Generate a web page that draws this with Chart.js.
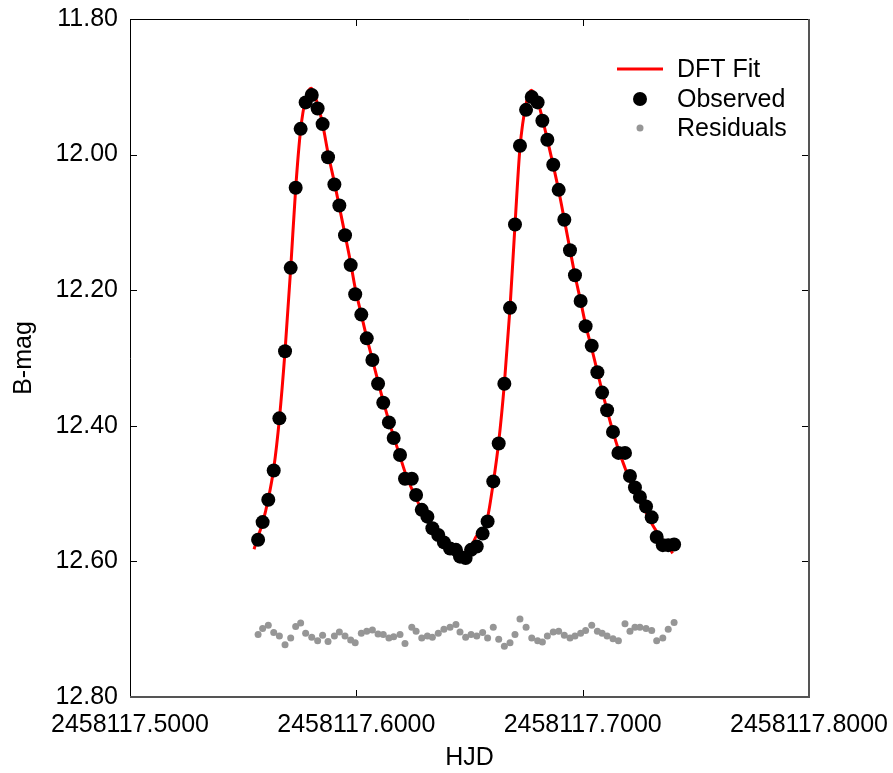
<!DOCTYPE html>
<html>
<head>
<meta charset="utf-8">
<script src="https://cdn.jsdelivr.net/npm/chart.js@4"></script>
<style>
html, body { margin: 0; padding: 0; background: #fff; }
canvas { display: block; }
</style>
</head>
<body>
<canvas id="lightCurve" width="893" height="773"></canvas>
<script>
const hjd = [
  2458117.5566, 2458117.5586, 2458117.5611, 2458117.5635, 2458117.5660, 2458117.5685, 2458117.5710, 2458117.5732, 2458117.5754, 2458117.5776,
  2458117.5803, 2458117.5829, 2458117.5851, 2458117.5875, 2458117.5903, 2458117.5925, 2458117.5950, 2458117.5975, 2458117.5995, 2458117.6022,
  2458117.6046, 2458117.6071, 2458117.6096, 2458117.6119, 2458117.6144, 2458117.6165, 2458117.6193, 2458117.6215, 2458117.6245, 2458117.6264,
  2458117.6289, 2458117.6314, 2458117.6336, 2458117.6362, 2458117.6387, 2458117.6414, 2458117.6440, 2458117.6458, 2458117.6483, 2458117.6507,
  2458117.6532, 2458117.6558, 2458117.6580, 2458117.6605, 2458117.6629, 2458117.6654, 2458117.6679, 2458117.6701, 2458117.6723, 2458117.6750,
  2458117.6775, 2458117.6801, 2458117.6822, 2458117.6844, 2458117.6870, 2458117.6894, 2458117.6919, 2458117.6944, 2458117.6966, 2458117.6991,
  2458117.7013, 2458117.7040, 2458117.7065, 2458117.7086, 2458117.7108, 2458117.7134, 2458117.7158, 2458117.7187, 2458117.7209, 2458117.7231,
  2458117.7253, 2458117.7280, 2458117.7305, 2458117.7327, 2458117.7354, 2458117.7378, 2458117.7404
];
const observed = [
  12.568, 12.542, 12.509, 12.466, 12.389, 12.290, 12.167, 12.049, 11.962, 11.923,
  11.912, 11.932, 11.955, 12.004, 12.044, 12.075, 12.119, 12.163, 12.206, 12.236,
  12.271, 12.303, 12.338, 12.366, 12.395, 12.418, 12.443, 12.478, 12.478, 12.502,
  12.524, 12.534, 12.551, 12.561, 12.572, 12.581, 12.583, 12.593, 12.595, 12.583,
  12.578, 12.559, 12.541, 12.482, 12.426, 12.338, 12.226, 12.103, 11.987, 11.934,
  11.915, 11.923, 11.950, 11.978, 12.015, 12.052, 12.096, 12.141, 12.178, 12.216,
  12.253, 12.282, 12.321, 12.351, 12.377, 12.409, 12.440, 12.440, 12.474, 12.491,
  12.505, 12.519, 12.535, 12.564, 12.576, 12.576, 12.575
];
const residuals = [
  12.708, 12.699, 12.694, 12.705, 12.710, 12.723, 12.713, 12.696, 12.691, 12.706,
  12.712, 12.717, 12.709, 12.718, 12.710, 12.704, 12.710, 12.716, 12.720, 12.706,
  12.703, 12.701, 12.707, 12.708, 12.713, 12.711, 12.708, 12.721, 12.697, 12.703,
  12.713, 12.710, 12.712, 12.706, 12.700, 12.697, 12.693, 12.704, 12.712, 12.708,
  12.710, 12.705, 12.713, 12.697, 12.715, 12.725, 12.720, 12.708, 12.685, 12.697,
  12.713, 12.717, 12.719, 12.710, 12.704, 12.703, 12.709, 12.713, 12.710, 12.706,
  12.702, 12.694, 12.703, 12.706, 12.710, 12.714, 12.717, 12.692, 12.703, 12.697,
  12.697, 12.699, 12.702, 12.717, 12.713, 12.700, 12.690
];

// DFT fit curve
const fitHjd = [
  2458117.5548, 2458117.5566, 2458117.5586, 2458117.5611, 2458117.5635, 2458117.5660, 2458117.5685, 2458117.5710, 2458117.5732, 2458117.5754,
  2458117.5776, 2458117.5800, 2458117.5829, 2458117.5851, 2458117.5875, 2458117.5903, 2458117.5925, 2458117.5950, 2458117.5975, 2458117.5995,
  2458117.6022, 2458117.6046, 2458117.6071, 2458117.6096, 2458117.6119, 2458117.6144, 2458117.6165, 2458117.6193, 2458117.6215, 2458117.6245,
  2458117.6264, 2458117.6289, 2458117.6314, 2458117.6336, 2458117.6362, 2458117.6387, 2458117.6414, 2458117.6440, 2458117.6458, 2458117.6475,
  2458117.6507, 2458117.6532, 2458117.6558, 2458117.6580, 2458117.6605, 2458117.6629, 2458117.6654, 2458117.6679, 2458117.6701, 2458117.6723,
  2458117.6750, 2458117.6773, 2458117.6801, 2458117.6822, 2458117.6844, 2458117.6870, 2458117.6894, 2458117.6919, 2458117.6944, 2458117.6966,
  2458117.6991, 2458117.7013, 2458117.7040, 2458117.7065, 2458117.7086, 2458117.7108, 2458117.7134, 2458117.7158, 2458117.7187, 2458117.7209,
  2458117.7231, 2458117.7253, 2458117.7280, 2458117.7305, 2458117.7327, 2458117.7354, 2458117.7378, 2458117.7398
];
const fitMag = [
  12.582, 12.563, 12.543, 12.508, 12.463, 12.390, 12.290, 12.168, 12.050, 11.963,
  11.918, 11.902, 11.926, 11.955, 11.998, 12.041, 12.077, 12.118, 12.160, 12.197,
  12.236, 12.270, 12.302, 12.335, 12.364, 12.393, 12.416, 12.445, 12.468, 12.493,
  12.507, 12.524, 12.539, 12.551, 12.563, 12.573, 12.581, 12.587, 12.589, 12.588,
  12.578, 12.562, 12.556, 12.535, 12.484, 12.424, 12.338, 12.226, 12.104, 11.990,
  11.925, 11.905, 11.921, 11.947, 11.978, 12.016, 12.053, 12.096, 12.140, 12.178,
  12.216, 12.251, 12.286, 12.320, 12.349, 12.377, 12.409, 12.435, 12.462, 12.481,
  12.497, 12.512, 12.528, 12.544, 12.556, 12.569, 12.579, 12.588
];

const xTicks = [2458117.5, 2458117.6, 2458117.7, 2458117.8];
const yTicks = [11.8, 12.0, 12.2, 12.4, 12.6, 12.8];

const seriesNames = ['DFT Fit', 'Observed', 'Residuals'];

Chart.defaults.font.family = '"Liberation Sans", Arial, sans-serif';
Chart.defaults.font.size = 25;
Chart.defaults.color = '#000';

const toPoints = (xs, ys) => xs.map((x, i) => ({ x: x, y: ys[i] }));

// frame with inward tick marks on all four sides
const frameTicks = {
  id: 'frameTicks',
  afterDatasetsDraw(chart) {
    const ctx = chart.ctx;
    const a = chart.chartArea;
    const xs = chart.scales.x, ys = chart.scales.y;
    const len = 7;
    ctx.save();
    ctx.strokeStyle = '#000';
    ctx.lineWidth = 1;
    ctx.beginPath();
    xTicks.forEach(v => {
      const px = Math.round(xs.getPixelForValue(v)) + 0.5;
      ctx.moveTo(px, a.bottom); ctx.lineTo(px, a.bottom - len);
      ctx.moveTo(px, a.top); ctx.lineTo(px, a.top + len);
    });
    yTicks.forEach(v => {
      const py = Math.round(ys.getPixelForValue(v)) + 0.5;
      ctx.moveTo(a.left, py); ctx.lineTo(a.left + len, py);
      ctx.moveTo(a.right, py); ctx.lineTo(a.right - len, py);
    });
    ctx.stroke();
    // left and top edges
    ctx.beginPath();
    ctx.moveTo(a.left + 0.5, a.bottom);
    ctx.lineTo(a.left + 0.5, a.top + 0.5);
    ctx.lineTo(a.right, a.top + 0.5);
    ctx.stroke();
    // right and bottom edges, a bit heavier and grey
    ctx.strokeStyle = '#555';
    ctx.lineWidth = 2;
    ctx.beginPath();
    ctx.moveTo(a.right, a.top);
    ctx.lineTo(a.right, a.bottom);
    ctx.lineTo(a.left, a.bottom);
    ctx.stroke();
    ctx.restore();
  }
};

// legend box in the upper right of the plot
const insideLegend = {
  id: 'insideLegend',
  afterDraw(chart) {
    const ctx = chart.ctx;
    const textX = 677, symX = 640;
    const rows = [69, 99, 128];
    ctx.save();
    ctx.font = '25px "Liberation Sans", Arial, sans-serif';
    ctx.textBaseline = 'middle';
    ctx.textAlign = 'left';
    // fit line sample
    ctx.strokeStyle = '#ff0000';
    ctx.lineWidth = 3;
    ctx.beginPath();
    ctx.moveTo(617, rows[0]);
    ctx.lineTo(663, rows[0]);
    ctx.stroke();
    // observed dot
    ctx.beginPath();
    ctx.arc(symX, rows[1], 7, 0, Math.PI * 2);
    ctx.fillStyle = '#000';
    ctx.fill();
    // residual dot
    ctx.beginPath();
    ctx.arc(symX, rows[2], 3.5, 0, Math.PI * 2);
    ctx.fillStyle = '#969696';
    ctx.fill();
    ctx.fillStyle = '#000';
    seriesNames.forEach((name, i) => ctx.fillText(name, textX, rows[i] + 1));
    ctx.restore();
  }
};

new Chart(document.getElementById('lightCurve'), {
  type: 'scatter',
  data: {
    datasets: [
      {
        label: seriesNames[1],
        data: toPoints(hjd, observed),
        backgroundColor: '#000',
        borderWidth: 0,
        pointRadius: 7,
        order: 1
      },
      {
        label: seriesNames[0],
        type: 'line',
        data: toPoints(fitHjd, fitMag),
        borderColor: '#ff0000',
        borderWidth: 3,
        pointRadius: 0,
        fill: false,
        cubicInterpolationMode: 'monotone',
        order: 2
      },
      {
        label: seriesNames[2],
        data: toPoints(hjd, residuals),
        backgroundColor: '#969696',
        borderWidth: 0,
        pointRadius: 3.5,
        order: 3
      }
    ]
  },
  options: {
    responsive: false,
    animation: false,
    devicePixelRatio: 1,
    layout: { padding: { top: 19, right: 84, left: 0, bottom: 0 } },
    plugins: {
      legend: { display: false },
      tooltip: { enabled: false }
    },
    scales: {
      x: {
        type: 'linear',
        min: 2458117.5,
        max: 2458117.8,
        afterBuildTicks: s => { s.ticks = xTicks.map(v => ({ value: v })); },
        afterFit: s => { s.height = 76; s.paddingLeft = 0; s.paddingRight = 0; },
        grid: { display: false, drawTicks: false },
        border: { display: false },
        ticks: {
          padding: 13,
          maxRotation: 0,
          autoSkip: false,
          callback: v => Number(v).toFixed(4)
        },
        title: { display: true, text: 'HJD', padding: { top: 0, bottom: 0 } }
      },
      y: {
        type: 'linear',
        reverse: true,
        min: 11.8,
        max: 12.8,
        afterBuildTicks: s => { s.ticks = yTicks.map(v => ({ value: v })); },
        afterFit: s => { s.width = 130; s.paddingTop = 0; s.paddingBottom = 0; },
        grid: { display: false, drawTicks: false },
        border: { display: false },
        ticks: {
          padding: 12,
          autoSkip: false,
          callback: v => Number(v).toFixed(2)
        },
        title: { display: true, text: 'B-mag', padding: { top: 9, bottom: 0 } }
      }
    }
  },
  plugins: [frameTicks, insideLegend]
});
</script>
</body>
</html>
